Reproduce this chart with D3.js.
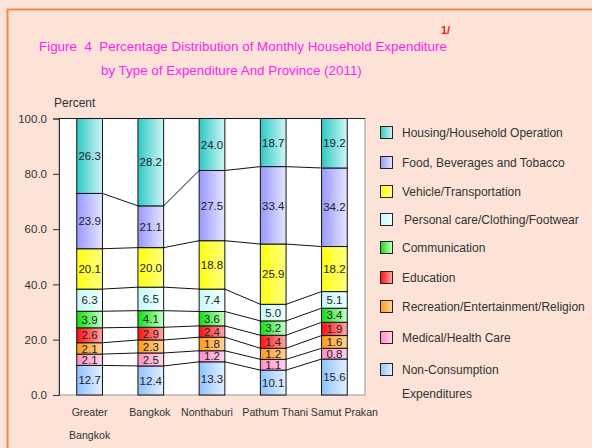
<!DOCTYPE html>
<html>
<head>
<meta charset="utf-8">
<script src="https://cdn.jsdelivr.net/npm/d3@7"></script>
<style>
  body { margin: 0; background: #fce2d7; }
  svg { display: block; font-family: "Liberation Sans", Arial, sans-serif; }
</style>
</head>
<body>
<svg id="chart" width="592" height="448"></svg>
<script>
// provinces (x axis)
var categories = ["Greater Bangkok", "Bangkok", "Nonthaburi", "Pathum Thani", "Samut Prakan"]
var categoryLines = [["Greater", "Bangkok"], ["Bangkok"], ["Nonthaburi"], ["Pathum Thani"], ["Samut Prakan"]]

// printed data labels, bottom of the stack first
var nonConsumption = [12.7, 12.4, 13.3, 10.1, 15.6]
var medical        = [2.1, 2.5, 1.2, 1.1, 0.8]
var recreation     = [2.1, 2.3, 1.8, 1.2, 1.6]
var education      = [2.6, 2.9, 2.4, 1.4, 1.9]
var communication  = [3.9, 4.1, 3.6, 3.2, 3.4]
var personalCare   = [6.3, 6.5, 7.4, 5.0, 5.1]
var vehicle        = [20.1, 20.0, 18.8, 25.9, 18.2]
var food           = [23.9, 21.1, 27.5, 33.4, 34.2]
var housing        = [26.3, 28.2, 24.0, 18.7, 19.2]

// segment heights as drawn in the figure (axis percent units) -
// the original is not to scale, small shares are drawn taller
var nonConsumptionDrawn = [10.7, 10.5, 12.0, 9.0, 13.0]
var medicalDrawn        = [4.1, 4.7, 4.0, 3.9, 3.9]
var recreationDrawn     = [4.1, 4.7, 4.9, 4.0, 4.6]
var educationDrawn      = [5.4, 4.6, 4.1, 4.7, 4.8]
var communicationDrawn  = [6.0, 6.0, 5.2, 5.2, 5.1]
var personalCareDrawn   = [8.0, 8.5, 8.1, 6.0, 6.0]
var vehicleDrawn        = [14.6, 14.3, 17.5, 21.8, 16.3]
var foodDrawn           = [20.0, 15.1, 25.4, 28.0, 28.4]
var housingDrawn        = [27.1, 31.6, 18.8, 17.4, 17.9]

var seriesNames = ["Non-Consumption Expenditures", "Medical/Health Care", "Recreation/Entertainment/Religion",
	"Education", "Communication", "Personal care/Clothing/Footwear", "Vehicle/Transportation",
	"Food, Beverages and Tobacco", "Housing/Household Operation"]
var seriesLabels = [nonConsumption, medical, recreation, education, communication, personalCare, vehicle, food, housing]
var seriesDrawn = [nonConsumptionDrawn, medicalDrawn, recreationDrawn, educationDrawn, communicationDrawn,
	personalCareDrawn, vehicleDrawn, foodDrawn, housingDrawn]

var yTicks = [0, 20, 40, 60, 80, 100]

// gradient stops [left, right] per series (same order)
var colors = [
	["#8fc3ff", "#e4f0ff"],
	["#ff8fc8", "#ffd3ea"],
	["#ff9a1a", "#ffd39a"],
	["#ff1010", "#ffa8a8"],
	["#10e010", "#c8ffc8"],
	["#c4fafa", "#f2ffff"],
	["#ffff10", "#ffff80"],
	["#9898ff", "#e6e6ff"],
	["#2ec8c4", "#d0f6f6"]
]

var svg = d3.select("#chart")
var defs = svg.append("defs")

colors.forEach(function(c, i) {
	var g = defs.append("linearGradient")
		.attr("id", "grad" + i)
		.attr("x1", 0).attr("y1", 0).attr("x2", 1).attr("y2", 0)
	g.append("stop").attr("offset", "0%").attr("stop-color", c[0])
	g.append("stop").attr("offset", "100%").attr("stop-color", c[1])
})

// frame
svg.append("rect")
	.attr("x", 7.5).attr("y", 9.5)
	.attr("width", 620).attr("height", 460)
	.attr("fill", "#fce2d7")
	.attr("stroke", "#f8883e")
	.attr("stroke-width", 2)

// titles
svg.append("text")
	.attr("x", 441).attr("y", 34)
	.attr("fill", "#ff1010")
	.attr("font-size", 11)
	.attr("font-weight", "bold")
	.text("1/")

svg.append("text")
	.attr("x", 39).attr("y", 51)
	.attr("fill", "#ff22ee")
	.attr("font-size", 13.4)
	.attr("xml:space", "preserve")
	.text("Figure  4  Percentage Distribution of Monthly Household Expenditure")

svg.append("text")
	.attr("x", 101).attr("y", 75)
	.attr("fill", "#ff22ee")
	.attr("font-size", 13.4)
	.text("by Type of Expenditure And Province (2011)")

var plotLeft = 59, plotRight = 365, plotTop = 118.5, plotBottom = 395

var x = d3.scaleBand().domain(categories).range([plotLeft, plotRight]).paddingInner(0.58).paddingOuter(0.29)
var y = d3.scaleLinear().domain([0, 100]).range([plotBottom, plotTop])

svg.append("rect")
	.attr("x", plotLeft).attr("y", plotTop)
	.attr("width", plotRight - plotLeft).attr("height", plotBottom - plotTop)
	.attr("fill", "white")
	.attr("stroke", "#999")

svg.append("line")
	.attr("x1", plotLeft).attr("x2", plotRight)
	.attr("y1", plotTop).attr("y2", plotTop)
	.attr("stroke", "#222")

svg.append("text")
	.attr("x", 54).attr("y", 107)
	.attr("fill", "#333")
	.attr("font-size", 12)
	.text("Percent")

// y axis
var yAxis = svg.append("g")
	.attr("transform", "translate(" + plotLeft + ",0)")
	.call(d3.axisLeft(y).tickValues(yTicks).tickSize(6).tickPadding(6).tickFormat(d3.format(".1f")))
yAxis.select(".domain").attr("stroke", "#333")
yAxis.selectAll(".tick line").attr("stroke", "#333")
yAxis.selectAll(".tick text")
	.attr("fill", "#333")
	.attr("font-size", 11.5)
	.attr("font-family", "Liberation Sans, Arial, sans-serif")

// x labels, the long ones nudged apart like the original
var labelShift = [0, -1, -5, 2, 10]
categoryLines.forEach(function(lines, i) {
	var cx = x(categories[i]) + x.bandwidth() / 2 + labelShift[i]
	var t = svg.append("text")
		.attr("y", 416)
		.attr("text-anchor", "middle")
		.attr("fill", "#333")
		.attr("font-size", 10.6)
	lines.forEach(function(l, k) {
		t.append("tspan")
			.attr("x", cx)
			.attr("dy", k == 0 ? 0 : 23)
			.text(l)
	})
})

// stack the drawn heights, keep printed values for the labels
var rows = categories.map(function(c, i) {
	var r = { cat: c, idx: i }
	seriesNames.forEach(function(s, j) { r[s] = seriesDrawn[j][i] })
	return r
})
var stacked = d3.stack().keys(seriesNames)(rows)

// series lines between bars
var lineG = svg.append("g")
stacked.forEach(function(layer) {
	for (var i = 0; i < categories.length - 1; i++) {
		lineG.append("line")
			.attr("x1", x(categories[i]) + x.bandwidth())
			.attr("x2", x(categories[i + 1]))
			.attr("y1", y(layer[i][1]))
			.attr("y2", y(layer[i + 1][1]))
			.attr("stroke", "#111")
			.attr("stroke-width", 1)
	}
})

// bars
var layers = svg.append("g").selectAll("g")
	.data(stacked)
	.enter().append("g")
	.attr("fill", function(d, i) { return "url(#grad" + i + ")" })

layers.selectAll("rect")
	.data(function(d) { return d })
	.enter().append("rect")
	.attr("x", function(d) { return x(d.data.cat) })
	.attr("y", function(d) { return y(d[1]) })
	.attr("width", x.bandwidth())
	.attr("height", function(d) { return y(d[0]) - y(d[1]) })
	.attr("stroke", "#111")
	.attr("stroke-width", 1)

layers.each(function(layer, j) {
	d3.select(this).selectAll("text")
		.data(layer)
		.enter().append("text")
		.attr("x", function(d) { return x(d.data.cat) + x.bandwidth() / 2 })
		.attr("y", function(d) { return (y(d[0]) + y(d[1])) / 2 + 4.2 })
		.attr("text-anchor", "middle")
		.attr("fill", "#222")
		.attr("font-size", 11.5)
		.text(function(d) { return seriesLabels[j][d.data.idx].toFixed(1) })
})

// legend, top series first
var legendY = [133, 163, 192, 220, 248, 278, 307, 338, 370]
var legendG = svg.append("g")
for (var k = 0; k < seriesNames.length; k++) {
	var j = seriesNames.length - 1 - k
	var cy = legendY[k]
	legendG.append("rect")
		.attr("x", 380.5).attr("y", cy - 6.5)
		.attr("width", 12).attr("height", 12)
		.attr("fill", "url(#grad" + j + ")")
		.attr("stroke", "#222")
	var lt = legendG.append("text")
		.attr("x", j == 5 ? 404 : 402)
		.attr("y", cy + 4)
		.attr("fill", "#333")
		.attr("font-size", 12)
	if (j == 0) {
		lt.append("tspan").attr("x", 402).text("Non-Consumption")
		lt.append("tspan").attr("x", 402).attr("dy", 24).text("Expenditures")
	} else {
		lt.text(seriesNames[j])
	}
}
</script>
</body>
</html>
